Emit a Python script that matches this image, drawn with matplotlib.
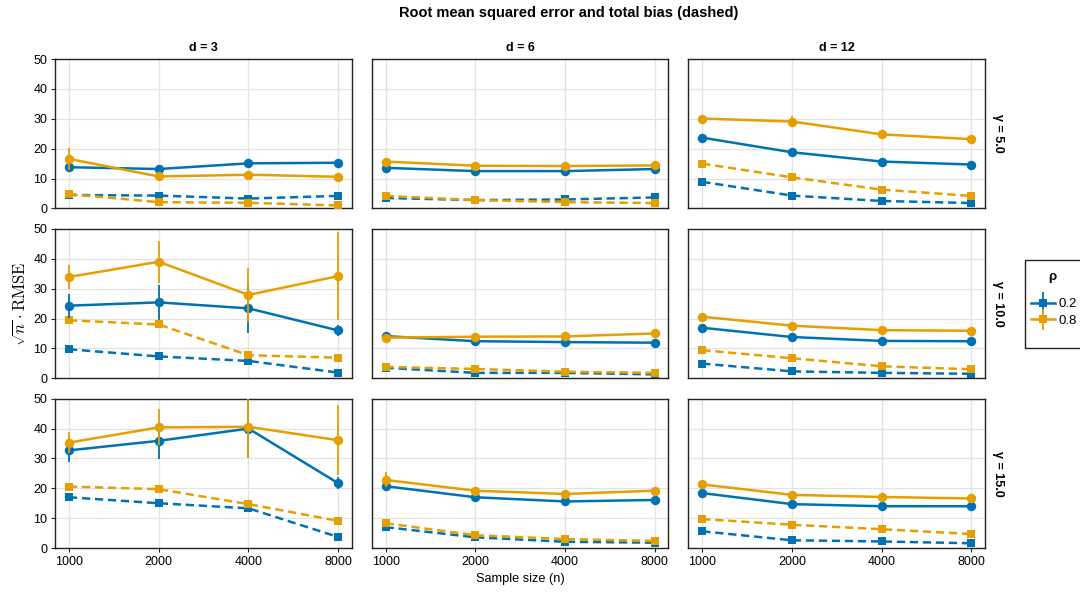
import matplotlib
matplotlib.use("Agg")
import matplotlib.pyplot as plt
from matplotlib.lines import Line2D
from matplotlib.patches import Rectangle
from matplotlib.container import ErrorbarContainer
from matplotlib.collections import LineCollection
from matplotlib.legend_handler import HandlerErrorbar

plt.rcParams['font.family'] = ['Liberation Sans', 'DejaVu Sans']
plt.rcParams['mathtext.fontset'] = 'cm'

# ---------------- data ----------------
sample_sizes = [1000, 2000, 4000, 8000]
d_values = [3, 6, 12]
gamma_values = [5.0, 10.0, 15.0]
rho_values = [0.2, 0.8]

# RMSE (solid) indexed [gamma][d] -> list over sample sizes
rmse_rho02 = [
    [[13.8, 13.2, 15.1, 15.3], [13.6, 12.5, 12.5, 13.2], [23.7, 18.8, 15.7, 14.7]],
    [[24.3, 25.4, 23.4, 16.0], [14.1, 12.4, 12.1, 11.9], [16.9, 13.8, 12.5, 12.4]],
    [[32.7, 35.9, 40.0, 21.7], [20.7, 17.0, 15.6, 16.1], [18.4, 14.7, 14.0, 14.0]],
]
rmse_rho08 = [
    [[16.6, 10.7, 11.3, 10.6], [15.7, 14.3, 14.2, 14.4], [30.1, 29.1, 24.8, 23.2]],
    [[33.9, 39.0, 27.9, 34.2], [13.6, 13.9, 14.0, 15.0], [20.6, 17.6, 16.1, 15.9]],
    [[35.3, 40.4, 40.6, 36.1], [22.8, 19.2, 18.1, 19.2], [21.3, 17.8, 17.1, 16.6]],
]
# error bar half-widths for RMSE
err_rho02 = [
    [[1.0, 0.8, 1.6, 1.3], [0.8, 0.7, 0.7, 0.7], [0.8, 0.6, 0.6, 0.6]],
    [[4.0, 5.9, 8.4, 1.8], [0.7, 0.6, 0.6, 0.6], [0.7, 0.6, 0.6, 0.6]],
    [[4.0, 6.0, 9.7, 2.0], [1.5, 0.8, 0.8, 0.8], [0.7, 0.6, 0.6, 0.6]],
]
err_rho08 = [
    [[3.7, 0.8, 1.0, 0.8], [0.8, 0.7, 0.7, 0.7], [1.0, 1.8, 0.8, 0.8]],
    [[4.0, 7.0, 9.0, 14.7], [0.7, 0.6, 0.6, 0.6], [0.8, 0.6, 0.6, 0.6]],
    [[3.6, 6.0, 10.5, 11.7], [2.5, 1.0, 0.8, 1.0], [0.8, 0.6, 0.6, 0.6]],
]
# total bias (dashed)
bias_rho02 = [
    [[4.5, 4.3, 3.3, 4.2], [3.5, 2.8, 3.0, 3.7], [8.9, 4.3, 2.5, 1.8]],
    [[9.7, 7.3, 5.8, 1.9], [3.5, 1.8, 1.8, 1.3], [4.9, 2.3, 1.8, 1.5]],
    [[17.0, 15.0, 13.3, 3.7], [7.0, 3.6, 2.1, 1.8], [5.6, 2.6, 2.2, 1.6]],
]
bias_rho08 = [
    [[4.8, 2.1, 1.9, 1.0], [4.2, 2.8, 2.1, 1.8], [15.0, 10.4, 6.3, 4.2]],
    [[19.4, 18.0, 7.7, 6.9], [3.8, 3.1, 2.2, 1.8], [9.4, 6.7, 4.0, 3.0]],
    [[20.6, 19.7, 14.7, 9.1], [8.3, 4.3, 3.0, 2.4], [9.7, 7.8, 6.3, 4.7]],
]

colors = ['#0072B2', '#E69F00']
y_ticks = [0, 10, 20, 30, 40, 50]

W, H = 1080, 597

# ---------------- figure ----------------
fig = plt.figure(figsize=(W / 100, H / 100), dpi=100)
gs = fig.add_gridspec(3, 3, left=0.051, right=0.912, top=0.901, bottom=0.082,
                      wspace=0.0676, hspace=0.137)

rmse_all = [rmse_rho02, rmse_rho08]
err_all = [err_rho02, err_rho08]
bias_all = [bias_rho02, bias_rho08]

xlo = 1000 * 2 ** -0.155
xhi = 8000 * 2 ** 0.15

for gi, g in enumerate(gamma_values):
    for di, d in enumerate(d_values):
        ax = fig.add_subplot(gs[gi, di])
        ax.set_xscale('log', base=2)
        ax.set_axisbelow(True)
        for ri in range(2):
            c = colors[ri]
            ax.plot(sample_sizes, bias_all[ri][gi][di], color=c, lw=1.8,
                    ls=(0, (3.3, 1.9)), marker='s', ms=5.6, mew=0, zorder=2 + ri)
        for ri in range(2):
            c = colors[ri]
            ax.errorbar(sample_sizes, rmse_all[ri][gi][di], yerr=err_all[ri][gi][di],
                        color=c, lw=1.8, elinewidth=1.3, capsize=0, marker='o',
                        ms=6.8, mew=0, zorder=4 + ri)
        ax.set_xlim(xlo, xhi)
        ax.set_ylim(0, 50)
        ax.set_xticks(sample_sizes)
        ax.set_xticklabels([str(s) for s in sample_sizes])
        ax.minorticks_off()
        ax.set_yticks(y_ticks)
        ax.grid(True, color='#e3e3e3', lw=0.9)
        for sp in ax.spines.values():
            sp.set_color('#222222')
            sp.set_linewidth(1.0)
        ax.tick_params(axis='both', labelsize=9, length=3, width=0.8,
                       color='#222222', pad=2.5)
        if di != 0:
            ax.tick_params(axis='y', left=False, labelleft=False)
        if gi != 2:
            ax.tick_params(axis='x', bottom=False, labelbottom=False)
        if gi == 0:
            ax.set_title(f'd = {d}', fontsize=9, fontweight='bold', pad=6)
        if di == 2:
            ax.text(1.025, 0.5, f'γ = {g}', transform=ax.transAxes, rotation=-90,
                    ha='left', va='center', fontsize=9, fontweight='bold')
        if gi == 2 and di == 1:
            ax.set_xlabel('Sample size (n)', fontsize=9.2, labelpad=4)
        if gi == 1 and di == 0:
            ax.set_ylabel(r'$\sqrt{n}\cdot\mathrm{RMSE}$', fontsize=12, labelpad=3)

fig.text(0.527, 1 - 13 / H, 'Root mean squared error and total bias (dashed)',
         ha='center', va='center', fontsize=10.5, fontweight='bold')

# legend
eb_handles = []
for ri in range(2):
    ln = Line2D([0], [0], color=colors[ri], lw=1.8, marker='s', ms=5.6, mew=0)
    lc = LineCollection([[(0, 0), (0, 1)]], colors=colors[ri], linewidths=1.3)
    eb = ErrorbarContainer((ln, (), (lc,)), has_xerr=False, has_yerr=True)
    eb_handles.append(eb)
leg = fig.legend(eb_handles, [str(r) for r in rho_values],
                 loc='upper left', bbox_to_anchor=(1031 / W, 1 - 298 / H),
                 fontsize=9.5, frameon=False, borderpad=0, borderaxespad=0,
                 handlelength=1.8, handletextpad=0.3, labelspacing=0.35,
                 handler_map={ErrorbarContainer: HandlerErrorbar(yerr_size=0.83)})
fig.text(1052 / W, 1 - 277 / H, 'ρ', ha='center', va='center', fontsize=9.5,
         fontweight='bold')
fig.add_artist(Rectangle((1025 / W, 1 - 348 / H), 70 / W, 88 / H,
                         transform=fig.transFigure, fill=False,
                         ec='#222222', lw=1.0, clip_on=False))

fig.savefig('out.png', dpi=100)
